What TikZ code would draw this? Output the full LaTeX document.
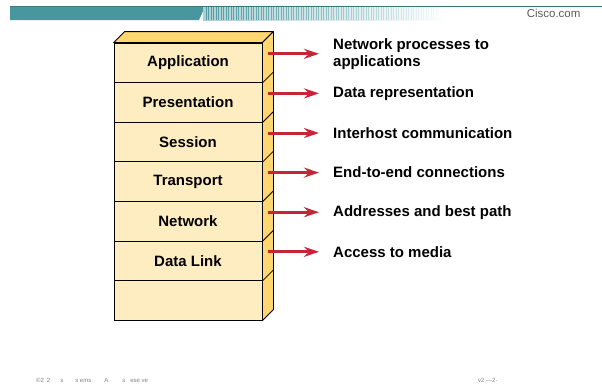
\documentclass[tikz,border=0pt]{standalone}
\usepackage{fontspec}
\setmainfont{Liberation Sans}
\usetikzlibrary{calc,arrows.meta}
\definecolor{layerfront}{RGB}{255,237,194}
\definecolor{layerside}{RGB}{255,214,112}
\definecolor{arrowred}{RGB}{196,38,56}
\definecolor{bannerteal}{RGB}{72,150,158}
\definecolor{footgrey}{RGB}{130,130,130}
\tikzset{
  layer-box/.style={
    draw=black,
    line width=0.8pt,
    fill=layerfront,
    minimum width=148pt,
    minimum height=39.6pt,
    inner sep=0pt,
    font=\fontsize{15}{17}\selectfont\bfseries
  },
  layer-edge/.style={draw=black, line width=0.8pt, line join=round, fill=layerside},
  role-text/.style={anchor=west, inner sep=0pt, align=left, font=\fontsize{15}{17}\selectfont\bfseries},
  role-arrow/.style={arrowred, line width=3pt, -{Stealth[length=15pt,width=10pt,inset=5pt]}, shorten >=14pt},
  foot-text/.style={anchor=west, inner sep=0pt, text=footgrey, font=\fontsize{6}{7}\selectfont}
}

\begin{document}
\begin{tikzpicture}[x=1pt,y=-1pt]
  \useasboundingbox (0,0) rectangle (602,384);

  % Banner
  \draw[bannerteal!80!black, line width=0.8pt] (10,6) -- (602,6);
  \fill[bannerteal] (10,7) -- (205,7) -- (199,20) -- (10,20) -- cycle;
  \shade[left color=bannerteal!45, right color=white] (203,7) rectangle (445,20);
  \foreach \x [evaluate=\x as \op using {0.9*(445-\x)/240}] in {206,208.5,...,440} {
    \draw[bannerteal, opacity=\op, line width=0.7pt] (\x,7) -- (\x,20);
  }
  \node[text=footgrey!70!black, font=\fontsize{11.5}{12}\selectfont, anchor=east] (brand) at (584,13) {Cisco.com};

  % Layers
  \foreach \txt [count=\i] in {Application,Presentation,Session,Transport,Network,Data Link,{}} {
    \node[layer-box] (l\i) at (188,{43+39.6*(\i-0.5)}) {\txt};
  }
  \path (l1.north east) ++(11,-11) coordinate (tr);
  \path (l7.south east) ++(11,-11) coordinate (br);
  \filldraw[layer-edge] (l1.north west) -- ++(11,-11) -- (tr) -- (l1.north east) -- cycle;
  \filldraw[layer-edge] (l1.north east) -- (tr) -- (br) -- (l7.south east) -- cycle;
  \foreach \i in {1,...,6} {
    \draw[line width=0.8pt] (l\i.south east) -- ++(11,-11);
  }

  % Roles
  \foreach \txt [count=\i] in {{Network processes to\\applications},Data representation,Interhost communication,End-to-end connections,Addresses and best path,Access to media} {
    \coordinate (s\i) at (268,{43+39.6*(\i-0.5)-9});
    \node[role-text] (d\i) at (333,{43+39.6*(\i-0.5)-9}) {\txt};
    \draw[role-arrow] (s\i) -- (d\i.west);
  }

  % Footer
  \node[foot-text] (copy) at (36,380) {\copyright2\hspace{3pt}2\hspace{10pt}s\hspace{12pt}s ems\hspace{13pt}A\hspace{14pt}s\hspace{5pt}ese ve};
  \node[foot-text] (page) at (478,380) {v2 —2-};
\end{tikzpicture}
\end{document}
